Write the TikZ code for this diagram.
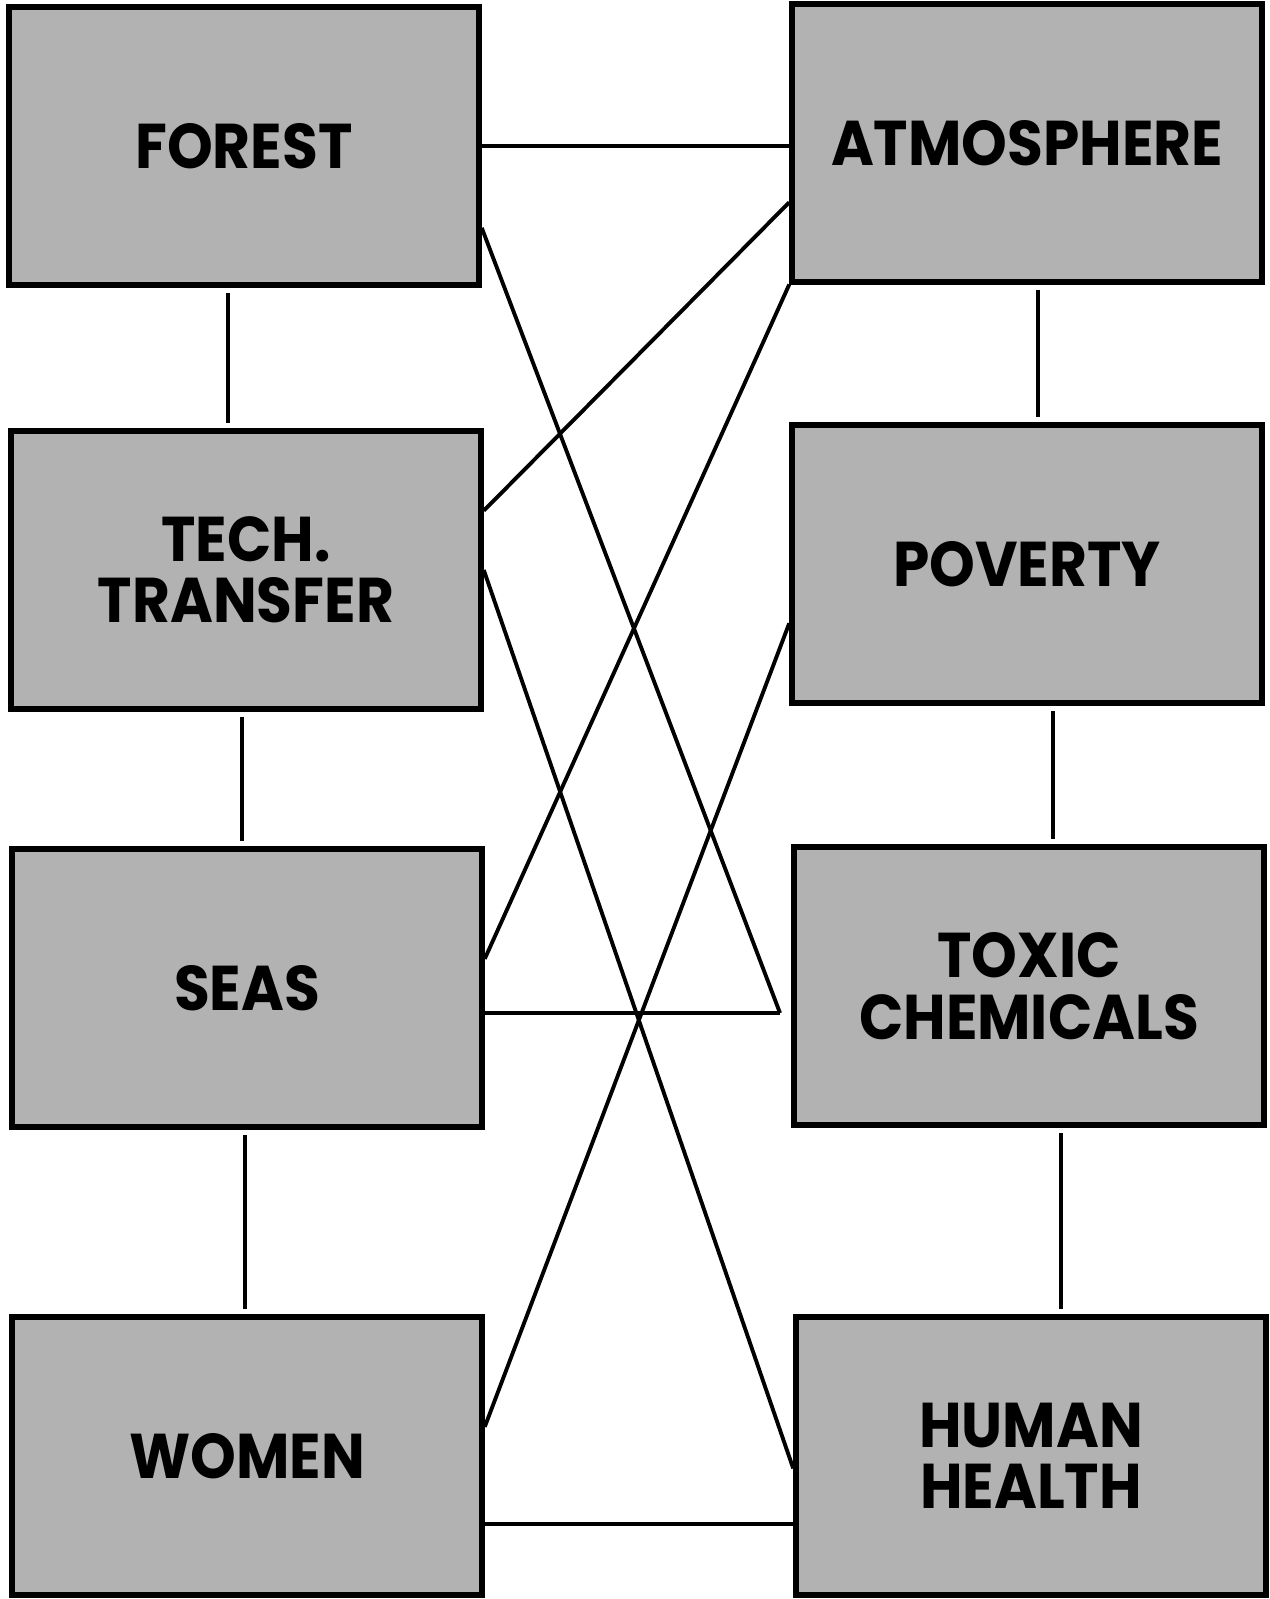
\documentclass[tikz,border=0pt]{standalone}
\usepackage{fontspec}
\newfontfamily\boxfont[FakeStretch=0.92]{Poppins}

\tikzset{
  topic/.style={draw, line width=3.2pt, fill=black!30, minimum width=9.4cm, minimum height=5.55cm,
    align=center, font=\boxfont\bfseries\fontsize{36}{35}\selectfont},
  link/.style={line width=2.2pt},
  vlink/.style={link, shorten <=0.1cm, shorten >=0.1cm}
}

\begin{document}
\begin{tikzpicture}[x=0.02cm, y=-0.02cm]
  \useasboundingbox (0,0) rectangle (1270,1599);
  \node[topic] (forest) at (244,146) {FOREST};
  \node[topic] (atmos) at (1027,143) {ATMOSPHERE};
  \node[topic] (tech) at (246,570) {TECH.\\TRANSFER};
  \node[topic] (poverty) at (1027,564) {POVERTY};
  \node[topic] (seas) at (247,988) {SEAS};
  \node[topic] (toxic) at (1029,986) {TOXIC\\CHEMICALS};
  \node[topic] (women) at (247,1456) {WOMEN};
  \node[topic] (health) at (1031,1456) {HUMAN\\HEALTH};
  \coordinate (tjoin) at (780,1013);

  \draw[link] (forest.east) -- (forest.east -| atmos.west);
  \draw[link] (forest.-19) -- (tjoin);
  \draw[link] (tjoin -| seas.east) -- (tjoin);
  \draw[link] (atmos.194) -- (tech.14);
  \draw[link] (atmos.south west) -- (seas.7);
  \draw[link] (tech.east) -- (health.183);
  \draw[link] (poverty.194) -- (women.7);
  \draw[link] (women.-16) -- (women.-16 -| health.west);

  \draw[vlink] (forest.south -| 228,0) -- (tech.north -| 228,0);
  \draw[vlink] (tech.south -| 242,0) -- (seas.north -| 242,0);
  \draw[vlink] (seas.south -| 245,0) -- (women.north -| 245,0);
  \draw[vlink] (atmos.south -| 1038,0) -- (poverty.north -| 1038,0);
  \draw[vlink] (poverty.south -| 1053,0) -- (toxic.north -| 1053,0);
  \draw[vlink] (toxic.south -| 1061,0) -- (health.north -| 1061,0);
\end{tikzpicture}
\end{document}
